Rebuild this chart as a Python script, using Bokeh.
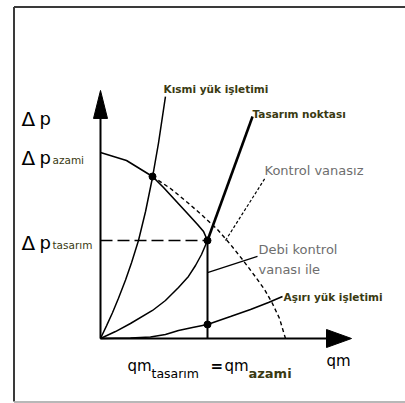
from bokeh.plotting import figure
from bokeh.models import Range1d
from bokeh.core.properties import value
from bokeh.embed import file_html
from bokeh.resources import INLINE

# Pump / system curves in relative units (design point = 1, 1)
q_design = 1.0
dp_design = 1.0
dp_max = 1.898

# pump curve without control valve
q_pump = [0.0, 0.243, 0.486, 0.654, 0.813, 0.953, 1.093, 1.215, 1.327, 1.439,
          1.533, 1.607, 1.673, 1.729]
dp_pump = [1.898, 1.816, 1.653, 1.531, 1.388, 1.255, 1.112, 0.959, 0.806, 0.643,
           0.500, 0.357, 0.204, 0.0]

# pump curve throttled by the flow control valve
q_valve = [0.486, 0.589, 0.701, 0.813, 0.907, 0.963, 1.0]
dp_valve = [1.653, 1.541, 1.408, 1.276, 1.163, 1.092, 1.0]

# system curve, partial load
q_part = [0.0, 0.056, 0.112, 0.168, 0.234, 0.290, 0.355, 0.421, 0.486, 0.542, 0.607]
dp_part = [0.0, 0.129, 0.263, 0.410, 0.596, 0.773, 1.0, 1.296, 1.643, 1.994, 2.469]

# system curve, design
q_sys = [0.0, 0.140, 0.280, 0.486, 0.607, 0.729, 0.822, 0.888, 0.944, 1.0]
dp_sys = [0.0, 0.071, 0.153, 0.286, 0.388, 0.520, 0.633, 0.745, 0.857, 1.0]
q_sys_ext = [1.0, 1.421]
dp_sys_ext = [1.0, 2.265]

# system curve, overload
q_over = [0.0, 0.280, 0.467, 0.607, 0.729, 0.860, 1.0, 1.215, 1.402, 1.570, 1.701]
dp_over = [0.0, 0.005, 0.015, 0.041, 0.082, 0.112, 0.143, 0.224, 0.296, 0.367, 0.429]

# operating points
q_points = [0.486, 1.0, 1.0]
dp_points = [1.653, 1.0, 0.143]

# label leaders
q_lead_kontrol = [1.168, 1.542]
dp_lead_kontrol = [1.0, 1.643]
q_lead_debi = [1.0, 1.467]
dp_lead_debi = [0.673, 0.837]

q_axis_end = 2.346
dp_axis_end = 2.531

# canvas geometry: origin position and pixels per unit
W, H = 405, 403
X0, Y0 = 100, 338
QS, PS = 107.0, 98.0


def qx(px):
    return (px - X0) / QS


def py(py_):
    return (Y0 - py_) / PS


p = figure(width=W, height=H, output_backend="svg", toolbar_location=None,
           x_range=Range1d(qx(0), qx(W)), y_range=Range1d(py(H), py(0)),
           x_axis_location=None, y_axis_location=None, min_border=0)
p.grid.visible = False
p.outline_line_color = None
p.background_fill_color = "white"
p.border_fill_color = "white"

# frame around the diagram
p.line([qx(13.5), qx(13.5)], [py(6.5), py(401)], line_color="#3a3a3a", line_width=2)
p.line([qx(13.5), qx(W + 5)], [py(6.5), py(6.5)], line_color="#3a3a3a", line_width=2)
p.line([qx(13.5), qx(W + 5)], [py(401.5), py(401.5)], line_color="#a0a0a0", line_width=1.5)

# axes with arrow heads
p.line([0, 0], [0, dp_axis_end - 26 / PS], line_color="black", line_width=2)
p.line([0, q_axis_end - 24 / QS], [0, 0], line_color="black", line_width=2)
p.patch([0, -7 / QS, 7 / QS], [dp_axis_end, dp_axis_end - 28 / PS, dp_axis_end - 28 / PS],
        fill_color="black", line_color="black")
p.patch([q_axis_end, q_axis_end - 25 / QS, q_axis_end - 25 / QS], [0, 9 / PS, -9 / PS],
        fill_color="black", line_color="black")

# design pressure reference line
p.line([0, q_design], [dp_design, dp_design], line_color="black", line_width=1.6,
       line_dash="12 5")

# pump curve: solid up to partial load point, dashed beyond
p.line(q_pump[:3], dp_pump[:3], line_color="black", line_width=1.6)
p.line(q_pump[2:], dp_pump[2:], line_color="black", line_width=1.4, line_dash="4 3")

# throttled curve and drop at design flow
p.line(q_valve, dp_valve, line_color="black", line_width=1.6)
p.line([q_design, q_design], [dp_design, 0], line_color="black", line_width=2)

# system curves
p.line(q_part, dp_part, line_color="black", line_width=1.5)
p.line(q_sys, dp_sys, line_color="black", line_width=1.5)
p.line(q_sys_ext, dp_sys_ext, line_color="black", line_width=2.6)
p.line(q_over, dp_over, line_color="black", line_width=1.6)

# leaders
p.line(q_lead_kontrol, dp_lead_kontrol, line_color="black", line_width=1.2, line_dash="3 2")
p.line(q_lead_debi, dp_lead_debi, line_color="black", line_width=1.3)

p.scatter(q_points, dp_points, size=7, marker="circle", fill_color="black", line_color="black")

FONT = value("DejaVu Sans")
OLIVE = "#3a3a12"
GREY = "#6e6e6e"


def label(px, py_, txt, size, color="black", style="normal"):
    p.text(x=[qx(px)], y=[py(py_)], text=[txt], text_font=FONT, text_font_size=size,
           text_color=color, text_font_style=style, text_align="left",
           text_baseline="alphabetic")


label(163, 88, "Kısmi yük işletimi", "10.5px", OLIVE, "bold")
label(252, 113, "Tasarım noktası", "10.5px", OLIVE, "bold")
label(283, 296, "Aşırı yük işletimi", "10.5px", OLIVE, "bold")
label(264, 170, "Kontrol vanasız", "13px", GREY)
label(258, 249, "Debi kontrol", "13px", GREY)
label(258, 269, "vanası ile", "13px", GREY)

# pressure labels
for base, sub in [(118, None), (157, "azami"), (242, "tasarım")]:
    label(21, base, "Δ", "20px")
    label(39, base, "p", "18px")
    if sub:
        label(52, base + 2, sub, "10.5px", OLIVE)

# flow labels
label(326, 360, "qm", "15px")
label(127, 365, "qm", "15px")
label(151, 373, "tasarım", "12.5px")
label(210, 365, "=", "15px", "black", "bold")
label(224, 365, "qm", "15px")
label(248, 373, "azami", "13px", OLIVE, "bold")

open("out.html", "w").write(file_html(p, INLINE))
